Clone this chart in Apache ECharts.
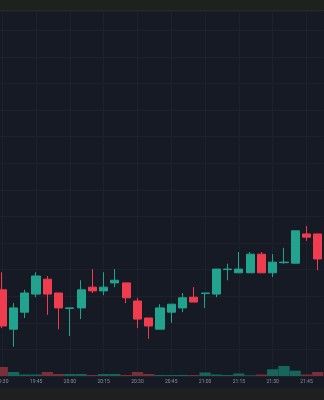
<!DOCTYPE html>
<html>
<head>
<meta charset="utf-8">
<script src="https://cdn.jsdelivr.net/npm/echarts@6/dist/echarts.min.js"></script>
<style>
html,body{margin:0;padding:0;background:#161a25;}
#c{width:324px;height:400px;}
</style>
</head>
<body>
<div id="c"></div>
<script>
// ---- data ----
const times = ['19:30','19:35','19:40','19:45','19:50','19:55','20:00','20:05','20:10','20:15',
  '20:20','20:25','20:30','20:35','20:40','20:45','20:50','20:55','21:00','21:05',
  '21:10','21:15','21:20','21:25','21:30','21:35','21:40','21:45','21:50'];
const opens  = [97.62,96.88,97.20,97.54,97.82,97.56,97.27,97.28,97.67,97.60,
  97.75,97.75,97.41,97.09,96.88,97.20,97.28,97.48,97.55,97.54,
  98.00,97.94,97.94,98.29,97.94,98.13,98.12,98.67,98.67];
const closes = [96.94,97.28,97.56,97.88,97.54,97.28,97.28,97.62,97.60,97.67,
  97.80,97.47,97.07,96.94,97.28,97.35,97.47,97.39,97.56,98.01,
  98.01,98.01,98.29,97.94,98.14,98.14,98.73,98.61,98.20];
const lows   = [96.90,96.55,97.09,97.48,97.15,96.88,96.75,97.07,97.56,97.52,
  97.67,97.37,96.90,96.70,96.88,97.00,97.20,97.39,97.28,97.48,
  97.80,97.94,97.94,97.94,97.86,98.11,98.12,98.54,97.99];
const highs  = [97.95,97.37,97.62,97.95,97.88,97.56,97.28,97.80,98.01,97.95,
  98.01,97.75,97.47,97.09,97.35,97.35,97.56,97.67,97.56,98.01,
  98.11,98.33,98.33,98.33,98.29,98.41,98.73,98.82,98.67];
const volumes = [900,400,150,150,400,200,200,200,100,200,
  200,100,400,200,100,100,100,100,350,150,
  100,250,70,150,670,1000,530,150,400];
const tickLabels = ['19:30','19:45','20:00','20:15','20:30','20:45','21:00','21:15','21:30','21:45'];

// ---- styles ----
const UP = '#22a38e', DOWN = '#f03c4f';
const UP_VOL = '#17665b', DOWN_VOL = '#7d2f39';
const GRID = '#1d212c';

const kData = times.map((t, i) => [opens[i], closes[i], lows[i], highs[i]]);
const volData = volumes.map((v, i) => ({
  value: v,
  itemStyle: { color: closes[i] >= opens[i] ? UP_VOL : DOWN_VOL }
}));

const chart = echarts.init(document.getElementById('c'), null, { renderer: 'canvas' });
chart.setOption({
  animation: false,
  backgroundColor: '#161a25',
  graphic: [
    { type: 'rect', shape: { x: 0, y: 0, width: 324, height: 10 }, style: { fill: '#1e211e' }, z: 100 },
    { type: 'rect', shape: { x: 0, y: 10, width: 324, height: 1 }, style: { fill: '#2a2527' }, z: 100 },
    { type: 'rect', shape: { x: 0, y: 388, width: 324, height: 12 }, style: { fill: '#1f1f1f' }, z: 100 }
  ],
  grid: [
    { left: -3.4, width: 326.8, top: 11, height: 365, outerBoundsMode: 'none', containLabel: false },
    { left: -3.4, width: 326.8, top: 276, height: 100, outerBoundsMode: 'none', containLabel: false }
  ],
  xAxis: [
    {
      type: 'category', data: times, gridIndex: 0, boundaryGap: true,
      axisLine: { show: false }, axisTick: { show: false },
      axisLabel: { interval: 2, fontSize: 5, color: '#8d909a', margin: 3, fontFamily: 'Roboto', hideOverlap: false },
      splitLine: { show: false }
    },
    {
      type: 'category', data: times, gridIndex: 1, boundaryGap: true,
      axisLine: { show: false }, axisTick: { show: false }, axisLabel: { show: false },
      splitLine: { show: false }
    }
  ],
  yAxis: [
    {
      type: 'value', gridIndex: 0, min: 96, max: 102.861, interval: 0.5,
      axisLine: { show: false }, axisTick: { show: false }, axisLabel: { show: false },
      splitLine: { show: true, lineStyle: { color: GRID, width: 1 } }
    },
    {
      type: 'value', gridIndex: 1, min: 0, max: 10000,
      axisLine: { show: false }, axisTick: { show: false }, axisLabel: { show: false },
      splitLine: { show: false }
    }
  ],
  series: [
    {
      type: 'bar', xAxisIndex: 1, yAxisIndex: 1, data: volData,
      barWidth: '100%', barCategoryGap: '0%', silent: true, z: 2
    },
    {
      type: 'candlestick', xAxisIndex: 0, yAxisIndex: 0, data: kData,
      barWidth: 8.6, z: 3,
      itemStyle: { color: UP, color0: DOWN, borderColor: UP, borderColor0: DOWN, borderWidth: 1 },
      markLine: {
        silent: true, symbol: ['none', 'none'], label: { show: false },
        lineStyle: { color: GRID, type: 'solid', width: 1 },
        z: 1,
        data: tickLabels.map(t => ({ xAxis: t }))
      }
    }
  ]
});
</script>
</body>
</html>
